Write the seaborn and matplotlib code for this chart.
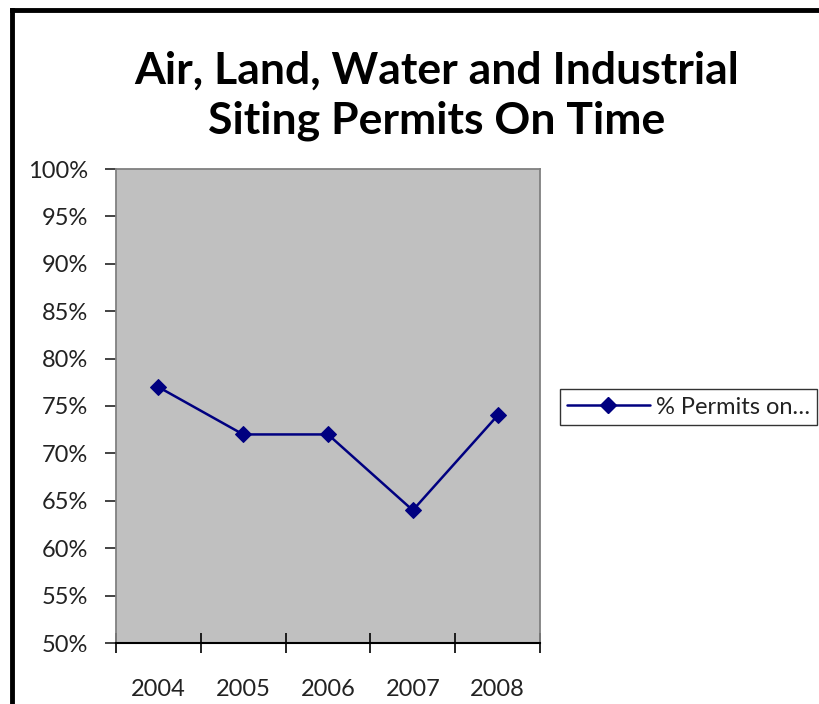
import matplotlib
matplotlib.use("Agg")
import matplotlib.pyplot as plt
import seaborn as sns
import pandas as pd
from matplotlib.lines import Line2D
from matplotlib.ticker import FuncFormatter, FixedLocator

years = ["2004", "2005", "2006", "2007", "2008"]
pct_on_time = [77, 72, 72, 64, 74]
series_name = "% Permits on…"
title_text = "Air, Land, Water and Industrial\nSiting Permits On Time"

W, H = 820, 704

sns.set_style("white")
plt.rcParams["font.family"] = ["Lato", "DejaVu Sans"]

df = pd.DataFrame({"pos": range(len(years)), "pct": pct_on_time})

fig = plt.figure(figsize=(W / 100, H / 100), dpi=100)
ax = fig.add_axes([116 / W, 1 - 643 / H, (540 - 116) / W, (643 - 169) / H])
ax.set_facecolor("#C0C0C0")

sns.lineplot(data=df, x="pos", y="pct", ax=ax, color="#000080", marker="D",
             markersize=8, markeredgecolor="#000080", linewidth=1.8,
             label=series_name, legend=False)

ax.set_xlim(-0.5, len(years) - 0.5)
ax.set_ylim(50, 100)
ax.set_yticks(range(50, 101, 5))
ax.yaxis.set_major_formatter(FuncFormatter(lambda v, p: f"{int(v)}%"))
ax.set_xticks(range(len(years)))
ax.set_xticklabels(years)
ax.xaxis.set_minor_locator(FixedLocator([i - 0.5 for i in range(len(years) + 1)]))
ax.tick_params(axis="x", which="major", bottom=True, length=0, labelsize=17,
               pad=26, colors="#222222")
ax.tick_params(axis="x", which="minor", bottom=True, length=14, width=1.2,
               direction="inout", color="black")
ax.tick_params(axis="y", left=True, length=8, width=1.2, direction="out",
               labelsize=17, colors="#222222", pad=12)
ax.set_xlabel("")
ax.set_ylabel("")

for side in ["left", "right", "top"]:
    ax.spines[side].set_color("#808080")
    ax.spines[side].set_linewidth(1.3)
ax.spines["bottom"].set_color("black")
ax.spines["bottom"].set_linewidth(1.5)
for lbl in ax.get_yticklabels():
    lbl.set_color("#222222")

fig.text(437 / W, 1 - 96 / H, title_text, ha="center", va="center",
         fontsize=32, fontweight="bold", linespacing=1.3, color="black")

handles = [Line2D([0], [0], color="#000080", marker="D", markersize=8, linewidth=1.8)]
leg = fig.legend(handles, [series_name], loc="center left",
                 bbox_to_anchor=(560 / W, 1 - 407 / H), fontsize=17,
                 frameon=True, fancybox=False, handlelength=3.5,
                 borderpad=0.3, handletextpad=0.25, borderaxespad=0)
leg.get_frame().set_edgecolor("black")
leg.get_frame().set_linewidth(1.0)
for t in leg.get_texts():
    t.set_color("#222222")

# outer frame (left and top edges visible)
fig.add_artist(Line2D([12 / W, 12 / W], [0, 1 - 10 / H], color="black", linewidth=3.5,
                      transform=fig.transFigure, solid_capstyle="projecting"))
fig.add_artist(Line2D([12 / W, 1], [1 - 10 / H, 1 - 10 / H], color="black", linewidth=3.5,
                      transform=fig.transFigure, solid_capstyle="projecting"))

fig.savefig("out.png", dpi=100)
